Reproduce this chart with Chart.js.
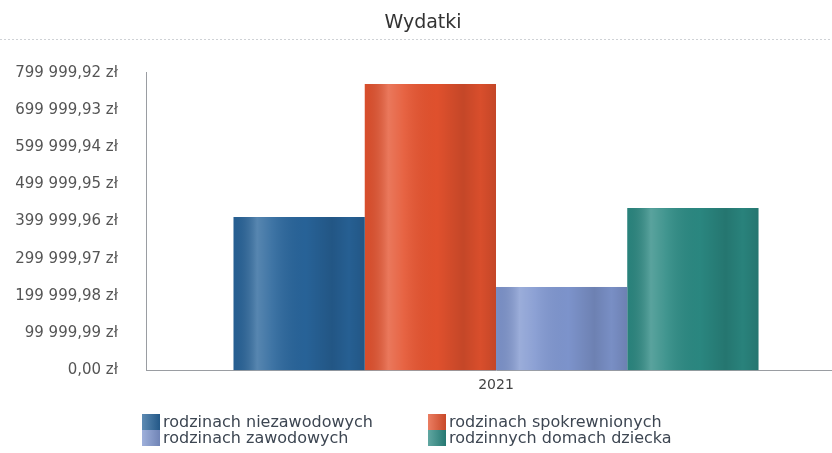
<!DOCTYPE html>
<html lang="pl">
<head>
<meta charset="utf-8">
<title>Wydatki</title>
<script src="https://cdn.jsdelivr.net/npm/chart.js@4.4.1/dist/chart.umd.min.js"></script>
<style>
    html, body { margin: 0; padding: 0; background: #fff; }
    body { width: 832px; height: 453px; overflow: hidden; position: relative; }
    #wykres { position: absolute; left: 0; top: 0; }
    #legenda {
        position: absolute; left: 142px; top: 414px;
        display: grid; grid-template-columns: 286px auto;
        font: 16px "DejaVu Sans", sans-serif; color: #3d4652; line-height: 16px;
    }
    .poz { display: flex; align-items: center; height: 16px; white-space: nowrap; }
    .kolor { width: 18px; height: 16px; margin-right: 3px; }
</style>
</head>
<body>
<canvas id="wykres" width="846" height="453"></canvas>
<div id="legenda"></div>
<script>
// =================================================================
// Wydatki 2021 - dane
// =================================================================

const kategorie = ['2021'];
const serie = ['rodzinach niezawodowych', 'rodzinach spokrewnionych', 'rodzinach zawodowych', 'rodzinnych domach dziecka'];
const wartosci = [412000, 770000, 224000, 436000];

const osY = [0, 99999.99, 199999.98, 299999.97, 399999.96, 499999.95, 599999.94, 699999.93, 799999.92];
const etykietyOsY = ['0,00 zł', '99 999,99 zł', '199 999,98 zł', '299 999,97 zł', '399 999,96 zł',
    '499 999,95 zł', '599 999,94 zł', '699 999,93 zł', '799 999,92 zł'];

// kolory słupków (styl)
const kolory = ['#28649a', '#e4522e', '#7f96cf', '#2b8982'];

// cieniowanie "walca" na słupkach
const cien = [
    [0, 'rgba(0,0,0,0.05)'],
    [0.18, 'rgba(255,255,255,0.22)'],
    [0.3, 'rgba(255,255,255,0.10)'],
    [0.55, 'rgba(0,0,0,0.02)'],
    [0.75, 'rgba(0,0,0,0.14)'],
    [0.88, 'rgba(0,0,0,0.05)'],
    [1, 'rgba(0,0,0,0.14)']
];

const pluginLinia = {
    id: 'liniaTytulu',
    beforeDraw(chart) {
        const ctx = chart.ctx;
        ctx.save();
        ctx.strokeStyle = '#cfd2d6';
        ctx.lineWidth = 1;
        ctx.setLineDash([2, 2]);
        ctx.beginPath();
        ctx.moveTo(0, 39.5);
        ctx.lineTo(chart.width, 39.5);
        ctx.stroke();
        ctx.restore();
    }
};

const pluginWalec = {
    id: 'walec',
    afterDatasetsDraw(chart) {
        const ctx = chart.ctx;
        ctx.save();
        chart.data.datasets.forEach((ds, i) => {
            const meta = chart.getDatasetMeta(i);
            if (meta.hidden) return;
            meta.data.forEach(el => {
                const p = el.getProps(['x', 'y', 'base', 'width'], true);
                const lewo = p.x - p.width / 2;
                const g = ctx.createLinearGradient(lewo, 0, lewo + p.width, 0);
                cien.forEach(s => g.addColorStop(s[0], s[1]));
                ctx.fillStyle = g;
                ctx.fillRect(lewo, Math.min(p.y, p.base), p.width, Math.abs(p.base - p.y));
            });
        });
        ctx.restore();
    }
};

const datasets = serie.map((nazwa, i) => ({
    label: nazwa,
    data: [wartosci[i]],
    backgroundColor: kolory[i],
    borderWidth: 0
}));

const wykres = new Chart(document.getElementById('wykres'), {
    type: 'bar',
    data: { labels: kategorie, datasets: datasets },
    options: {
        responsive: false,
        animation: false,
        categoryPercentage: 0.75,
        barPercentage: 1.0,
        layout: { padding: { left: 0, right: 0, top: 0, bottom: 52 } },
        plugins: {
            legend: { display: false },
            tooltip: { enabled: false },
            title: {
                display: true,
                text: 'Wydatki',
                color: '#333',
                font: { family: '"DejaVu Sans", sans-serif', size: 19, weight: 'normal' },
                padding: { top: 12, bottom: 38 }
            }
        },
        scales: {
            x: {
                grid: { display: false, drawTicks: false },
                border: { display: true, color: '#9a9da2', width: 1 },
                ticks: {
                    color: '#444',
                    padding: 7,
                    font: { family: '"DejaVu Sans", sans-serif', size: 14 }
                }
            },
            y: {
                min: osY[0],
                max: osY[osY.length - 1],
                afterBuildTicks(scale) {
                    scale.ticks = osY.map(v => ({ value: v }));
                },
                afterFit(scale) {
                    scale.width = 146;
                },
                grid: { display: false, drawTicks: false },
                border: { display: true, color: '#9a9da2', width: 1 },
                ticks: {
                    color: '#555',
                    padding: 28,
                    autoSkip: false,
                    font: { family: '"DejaVu Sans", sans-serif', size: 15 },
                    callback: (v, i) => etykietyOsY[i]
                }
            }
        }
    },
    plugins: [pluginLinia, pluginWalec]
});

// Legenda HTML (2 kolumny)
const legenda = document.getElementById('legenda');
serie.forEach((nazwa, i) => {
    const poz = document.createElement('div');
    poz.className = 'poz';
    const kol = document.createElement('span');
    kol.className = 'kolor';
    kol.style.background = 'linear-gradient(90deg, rgba(255,255,255,0.25), rgba(0,0,0,0.12)), ' + kolory[i];
    const txt = document.createElement('span');
    txt.textContent = nazwa;
    poz.appendChild(kol);
    poz.appendChild(txt);
    legenda.appendChild(poz);
});
</script>
</body>
</html>
